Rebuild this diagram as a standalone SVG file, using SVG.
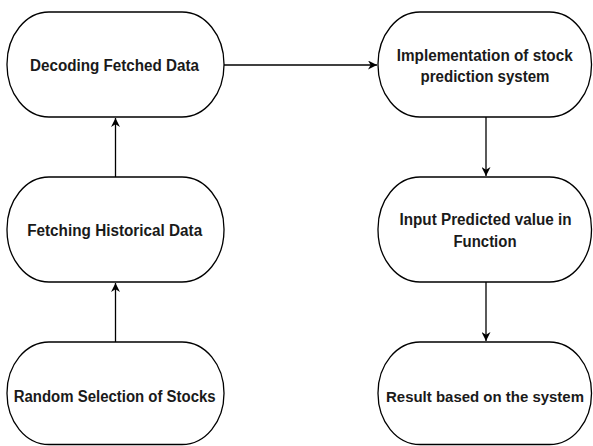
<svg xmlns="http://www.w3.org/2000/svg" width="593" height="446" viewBox="0 0 593 446">
<style>
.n{fill:#fff;stroke:#000;stroke-width:1.3}
.t{font-family:"Liberation Sans",Arial,sans-serif;font-weight:bold;font-size:16px;fill:#1a1a1a;text-anchor:middle}
.c{stroke:#000;stroke-width:1.3;fill:none}
</style>
<defs>
<marker id="a" viewBox="0 0 10 10" refX="10" refY="5" markerWidth="9" markerHeight="9" markerUnits="userSpaceOnUse" orient="auto">
<path d="M0,0 L10,5 L0,10 L3,5 Z" fill="#000"/>
</marker>
</defs>
<rect width="593" height="446" fill="#fff"/>
<g id="connectors">
<line class="c" x1="224" y1="65" x2="377" y2="65" marker-end="url(#a)"/>
<line class="c" x1="115.5" y1="177" x2="115.5" y2="118" marker-end="url(#a)"/>
<line class="c" x1="115.5" y1="342" x2="115.5" y2="283" marker-end="url(#a)"/>
<line class="c" x1="486" y1="117" x2="486" y2="176" marker-end="url(#a)"/>
<line class="c" x1="486" y1="282" x2="486" y2="341" marker-end="url(#a)"/>
</g>
<g id="n1"><rect class="n" x="7" y="12" width="217" height="105" rx="42" ry="52"/><text class="t" x="114.5" y="71" textLength="169" lengthAdjust="spacingAndGlyphs">Decoding Fetched Data</text></g>
<g id="n2"><rect class="n" x="378" y="12" width="213.5" height="105" rx="42" ry="52"/><text class="t" x="484.7" y="61" textLength="176" lengthAdjust="spacingAndGlyphs">Implementation of stock</text><text class="t" x="485" y="82" textLength="129" lengthAdjust="spacingAndGlyphs">prediction system</text></g>
<g id="n3"><rect class="n" x="7" y="177" width="217" height="105" rx="42" ry="52"/><text class="t" x="114.7" y="236" textLength="175" lengthAdjust="spacingAndGlyphs">Fetching Historical Data</text></g>
<g id="n4"><rect class="n" x="378" y="177" width="213.5" height="105" rx="42" ry="52"/><text class="t" x="485.5" y="225" textLength="172" lengthAdjust="spacingAndGlyphs">Input Predicted value in</text><text class="t" x="485" y="246.5" textLength="63" lengthAdjust="spacingAndGlyphs">Function</text></g>
<g id="n5"><rect class="n" x="7" y="342" width="217" height="102.5" rx="42" ry="51"/><text class="t" x="114.7" y="401.5" textLength="202" lengthAdjust="spacingAndGlyphs">Random Selection of Stocks</text></g>
<g id="n6"><rect class="n" x="378" y="342" width="213.5" height="102.5" rx="42" ry="51"/><text class="t" x="485" y="401.5" style="font-size:15px" textLength="198" lengthAdjust="spacingAndGlyphs">Result based on the system</text></g>
</svg>
